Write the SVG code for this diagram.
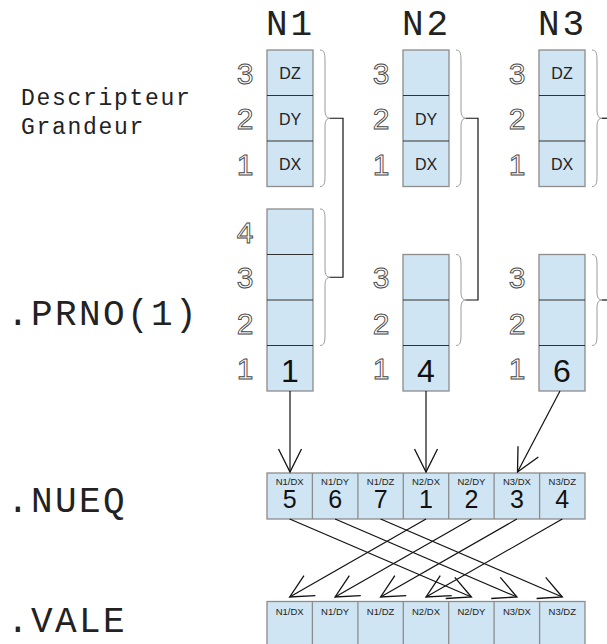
<svg xmlns="http://www.w3.org/2000/svg" width="607" height="644" viewBox="0 0 607 644">
<defs>
<style>
.mono{font-family:"Liberation Mono","DejaVu Sans Mono",monospace;fill:#222}
.big{font-size:36px;letter-spacing:2.4px}
.box{fill:#d0e5f3;stroke:#8c8c8c;stroke-width:1.3}
.sep{stroke:#333;stroke-width:1}
.sepg{stroke:#8c8c8c;stroke-width:1.3}
.odig{font-family:"Liberation Sans",Arial,sans-serif;font-size:30px;fill:#fff;stroke:#444;stroke-width:0.9;text-anchor:middle}
.lbl{font-family:"Liberation Sans",Arial,sans-serif;font-size:16px;fill:#222;text-anchor:middle}
.val{font-family:"Liberation Sans",Arial,sans-serif;font-size:32px;fill:#111;text-anchor:middle}
.sm{font-family:"Liberation Sans",Arial,sans-serif;font-size:9.5px;fill:#222;text-anchor:middle}
.num{font-family:"Liberation Sans",Arial,sans-serif;font-size:25px;fill:#111;text-anchor:middle}
.brace{fill:none;stroke:#9a9a9a;stroke-width:1}
.conn{fill:none;stroke:#111;stroke-width:1.2}
</style>
<marker id="ah" markerUnits="userSpaceOnUse" markerWidth="30" markerHeight="30" refX="0" refY="0" orient="auto" overflow="visible" viewBox="-25 -15 30 30">
<path d="M-23,-11.5 L0,0 L-23,11.5" fill="none" stroke="#111" stroke-width="1.3"/>
</marker>
</defs>
<rect width="607" height="644" fill="#fff"/>

<g id="left-labels">
<text class="mono" x="21" y="105" font-size="23" letter-spacing="1.7">Descripteur</text>
<text class="mono" x="21" y="134" font-size="23" letter-spacing="1.7">Grandeur</text>
<text class="mono big" x="7" y="325">.PRNO(1)</text>
<text class="mono big" x="7" y="512">.NUEQ</text>
<text class="mono big" x="7" y="632">.VALE</text>
</g>

<g id="titles">
<text class="mono" x="266" y="35" font-size="36" letter-spacing="3">N1</text>
<text class="mono" x="402" y="35" font-size="36" letter-spacing="3">N2</text>
<text class="mono" x="538" y="35" font-size="36" letter-spacing="3">N3</text>
</g>

<g id="n1-desc">
<rect class="box" x="267" y="50" width="46" height="136.5"/>
<line class="sep" x1="267" y1="95.5" x2="313" y2="95.5"/>
<line class="sep" x1="267" y1="141" x2="313" y2="141"/>
<text class="odig" x="245" y="83.5">3</text>
<text class="odig" x="245" y="129">2</text>
<text class="odig" x="245" y="174.5">1</text>
<text class="lbl" x="290" y="79">DZ</text>
<text class="lbl" x="290" y="124.5">DY</text>
<text class="lbl" x="290" y="170">DX</text>
<path class="brace" d="M320,50 C324,50 325,53 325,60 L325,110 C325,116 327,118.25 330,118.25 C327,118.25 325,120.5 325,126.5 L325,176.5 C325,183.5 324,186.5 320,186.5"/>
</g>

<g id="n2-desc">
<rect class="box" x="403" y="50" width="46" height="136.5"/>
<line class="sep" x1="403" y1="95.5" x2="449" y2="95.5"/>
<line class="sep" x1="403" y1="141" x2="449" y2="141"/>
<text class="odig" x="381" y="83.5">3</text>
<text class="odig" x="381" y="129">2</text>
<text class="odig" x="381" y="174.5">1</text>
<text class="lbl" x="426" y="124.5">DY</text>
<text class="lbl" x="426" y="170">DX</text>
<path class="brace" d="M456,50 C460,50 461,53 461,60 L461,110 C461,116 463,118.25 466,118.25 C463,118.25 461,120.5 461,126.5 L461,176.5 C461,183.5 460,186.5 456,186.5"/>
</g>

<g id="n3-desc">
<rect class="box" x="539" y="50" width="46" height="136.5"/>
<line class="sep" x1="539" y1="95.5" x2="585" y2="95.5"/>
<line class="sep" x1="539" y1="141" x2="585" y2="141"/>
<text class="odig" x="517" y="83.5">3</text>
<text class="odig" x="517" y="129">2</text>
<text class="odig" x="517" y="174.5">1</text>
<text class="lbl" x="562" y="79">DZ</text>
<text class="lbl" x="562" y="170">DX</text>
<path class="brace" d="M592,50 C596,50 597,53 597,60 L597,110 C597,116 599,118.25 602,118.25 C599,118.25 597,120.5 597,126.5 L597,176.5 C597,183.5 596,186.5 592,186.5"/>
</g>

<g id="n1-prno">
<rect class="box" x="267" y="209" width="46" height="182"/>
<line class="sep" x1="267" y1="254.5" x2="313" y2="254.5"/>
<line class="sep" x1="267" y1="300" x2="313" y2="300"/>
<line class="sep" x1="267" y1="345.5" x2="313" y2="345.5"/>
<text class="odig" x="245" y="242.5">4</text>
<text class="odig" x="245" y="288">3</text>
<text class="odig" x="245" y="333.5">2</text>
<text class="odig" x="245" y="379">1</text>
<text class="val" x="290" y="381.5">1</text>
<path class="brace" d="M320,209 C324,209 325,212 325,219 L325,269 C325,275 327,277.25 330,277.25 C327,277.25 325,279.5 325,285.5 L325,335.5 C325,342.5 324,345.5 320,345.5"/>
</g>

<g id="n2-prno">
<rect class="box" x="403" y="254.5" width="46" height="136.5"/>
<line class="sep" x1="403" y1="300" x2="449" y2="300"/>
<line class="sep" x1="403" y1="345.5" x2="449" y2="345.5"/>
<text class="odig" x="381" y="288">3</text>
<text class="odig" x="381" y="333.5">2</text>
<text class="odig" x="381" y="379">1</text>
<text class="val" x="426" y="381.5">4</text>
<path class="brace" d="M456,254.5 C460,254.5 461,257.5 461,264.5 L461,292 C461,298 463,300 466,300 C463,300 461,302 461,308 L461,335.5 C461,342.5 460,345.5 456,345.5"/>
</g>

<g id="n3-prno">
<rect class="box" x="539" y="254.5" width="46" height="136.5"/>
<line class="sep" x1="539" y1="300" x2="585" y2="300"/>
<line class="sep" x1="539" y1="345.5" x2="585" y2="345.5"/>
<text class="odig" x="517" y="288">3</text>
<text class="odig" x="517" y="333.5">2</text>
<text class="odig" x="517" y="379">1</text>
<text class="val" x="562" y="381.5">6</text>
<path class="brace" d="M592,254.5 C596,254.5 597,257.5 597,264.5 L597,292 C597,298 599,300 602,300 C599,300 597,302 597,308 L597,335.5 C597,342.5 596,345.5 592,345.5"/>
</g>

<g id="nueq">
<rect class="box" x="267" y="473" width="318" height="46"/>
<line class="sepg" x1="312.4" y1="473" x2="312.4" y2="519"/>
<line class="sepg" x1="357.9" y1="473" x2="357.9" y2="519"/>
<line class="sepg" x1="403.3" y1="473" x2="403.3" y2="519"/>
<line class="sepg" x1="448.7" y1="473" x2="448.7" y2="519"/>
<line class="sepg" x1="494.1" y1="473" x2="494.1" y2="519"/>
<line class="sepg" x1="539.6" y1="473" x2="539.6" y2="519"/>
<text class="sm" x="289.7" y="484.5">N1/DX</text>
<text class="sm" x="335.1" y="484.5">N1/DY</text>
<text class="sm" x="380.6" y="484.5">N1/DZ</text>
<text class="sm" x="426" y="484.5">N2/DX</text>
<text class="sm" x="471.4" y="484.5">N2/DY</text>
<text class="sm" x="516.9" y="484.5">N3/DX</text>
<text class="sm" x="562.3" y="484.5">N3/DZ</text>
<text class="num" x="289.7" y="508">5</text>
<text class="num" x="335.1" y="508">6</text>
<text class="num" x="380.6" y="508">7</text>
<text class="num" x="426" y="508">1</text>
<text class="num" x="471.4" y="508">2</text>
<text class="num" x="516.9" y="508">3</text>
<text class="num" x="562.3" y="508">4</text>
</g>

<g id="vale">
<rect class="box" x="267" y="601.5" width="318" height="50"/>
<line class="sepg" x1="312.4" y1="601.5" x2="312.4" y2="650"/>
<line class="sepg" x1="357.9" y1="601.5" x2="357.9" y2="650"/>
<line class="sepg" x1="403.3" y1="601.5" x2="403.3" y2="650"/>
<line class="sepg" x1="448.7" y1="601.5" x2="448.7" y2="650"/>
<line class="sepg" x1="494.1" y1="601.5" x2="494.1" y2="650"/>
<line class="sepg" x1="539.6" y1="601.5" x2="539.6" y2="650"/>
<text class="sm" x="289.7" y="614.5">N1/DX</text>
<text class="sm" x="335.1" y="614.5">N1/DY</text>
<text class="sm" x="380.6" y="614.5">N1/DZ</text>
<text class="sm" x="426" y="614.5">N2/DX</text>
<text class="sm" x="471.4" y="614.5">N2/DY</text>
<text class="sm" x="516.9" y="614.5">N3/DX</text>
<text class="sm" x="562.3" y="614.5">N3/DZ</text>
</g>

<g id="connectors">
<path class="conn" d="M330,118.25 H343 V277.25 H330"/>
<path class="conn" d="M466,118.25 H478 V300 H466"/>
<path class="conn" d="M602,118.25 H615"/>
<path class="conn" d="M602,300 H615"/>
<line class="conn" x1="290" y1="391" x2="290" y2="472" marker-end="url(#ah)"/>
<line class="conn" x1="426" y1="391" x2="426" y2="472" marker-end="url(#ah)"/>
<line class="conn" x1="560" y1="391" x2="517.5" y2="472" marker-end="url(#ah)"/>
<line class="conn" x1="289.7" y1="519" x2="471.4" y2="597" marker-end="url(#ah)"/>
<line class="conn" x1="335.1" y1="519" x2="516.9" y2="597" marker-end="url(#ah)"/>
<line class="conn" x1="380.6" y1="519" x2="562.3" y2="597" marker-end="url(#ah)"/>
<line class="conn" x1="426" y1="519" x2="289.7" y2="597" marker-end="url(#ah)"/>
<line class="conn" x1="471.4" y1="519" x2="335.1" y2="597" marker-end="url(#ah)"/>
<line class="conn" x1="516.9" y1="519" x2="380.6" y2="597" marker-end="url(#ah)"/>
<line class="conn" x1="562.3" y1="519" x2="426" y2="597" marker-end="url(#ah)"/>
</g>
</svg>
